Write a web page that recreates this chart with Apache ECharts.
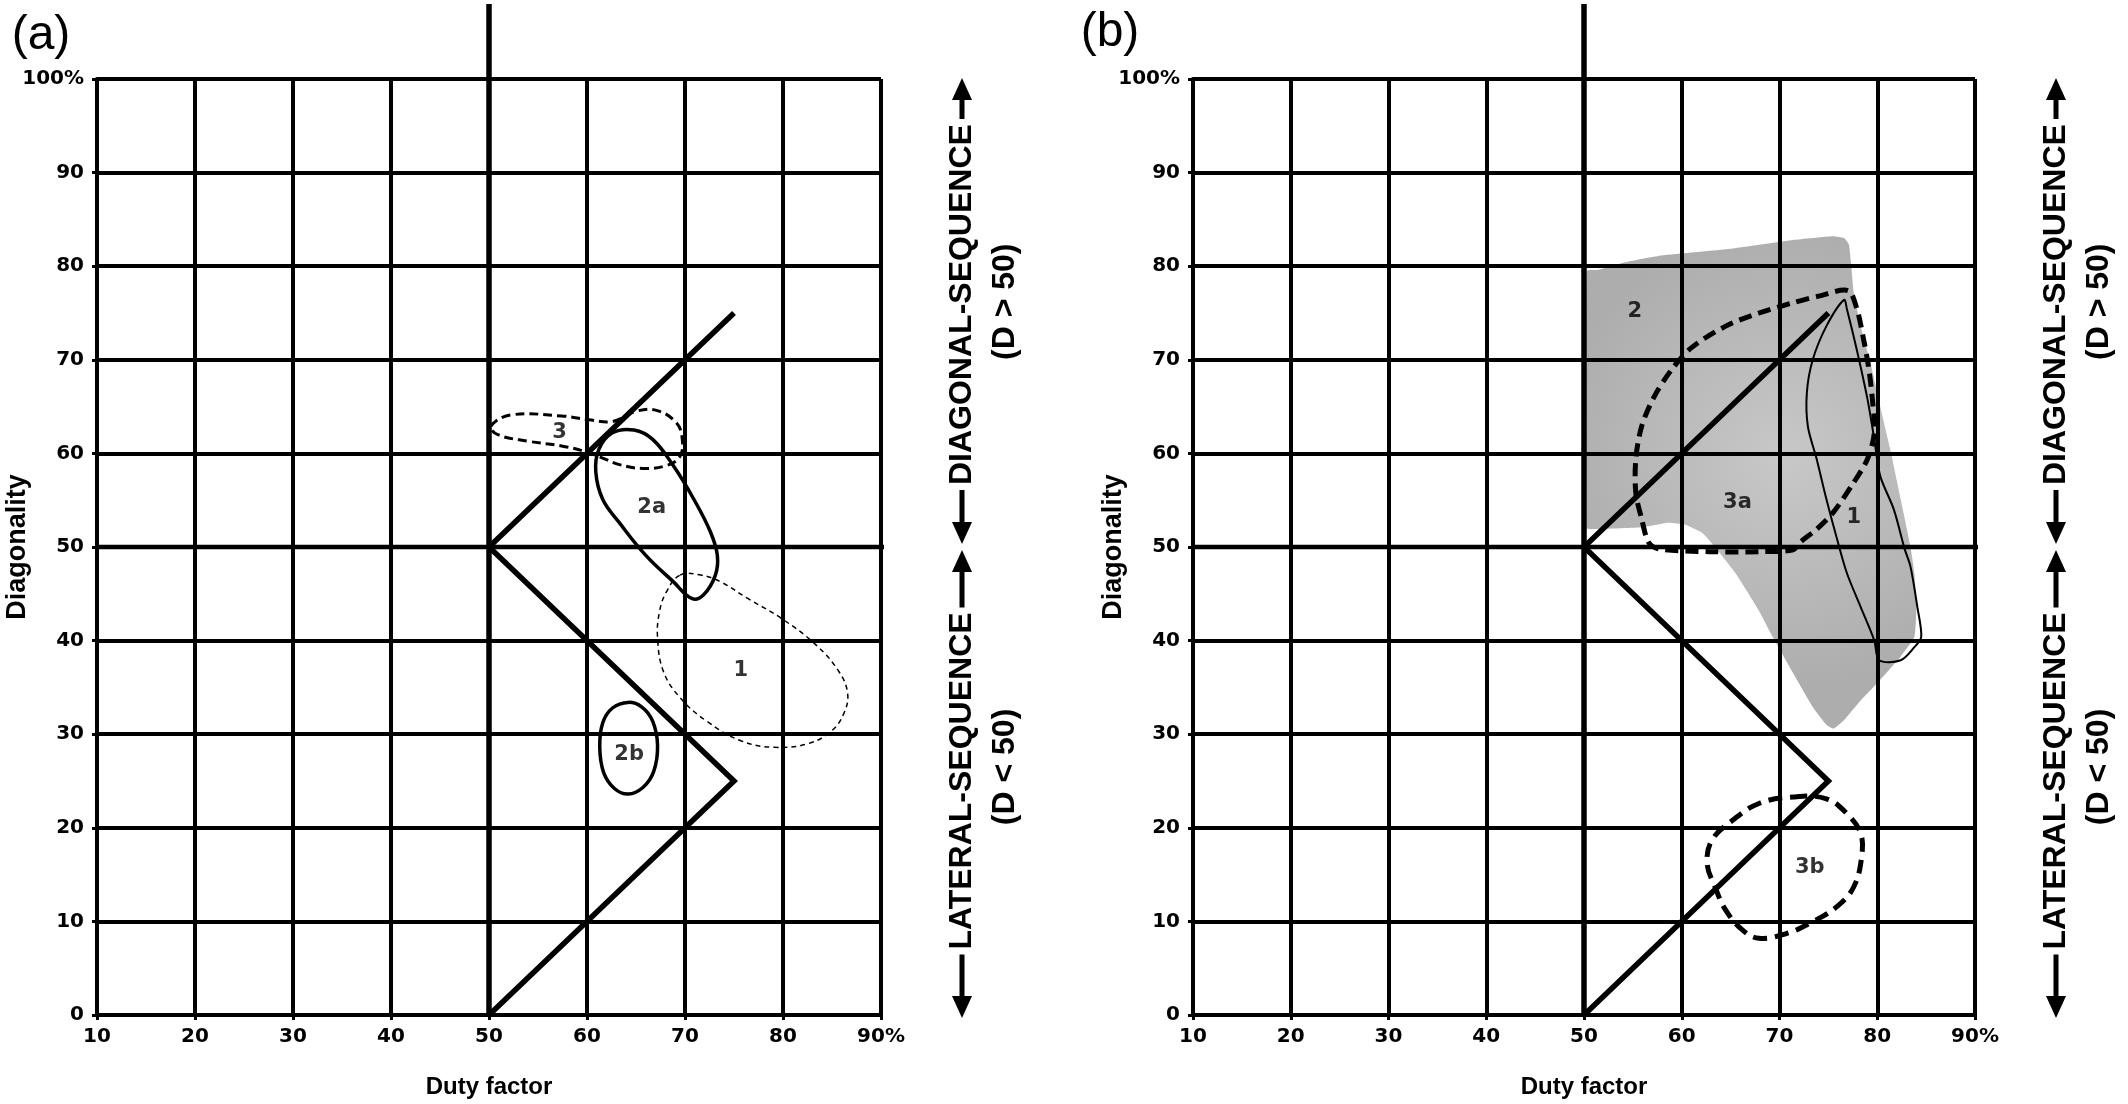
<!DOCTYPE html>
<html><head><meta charset="utf-8">
<script src="https://cdn.jsdelivr.net/npm/echarts@6/dist/echarts.min.js"></script>
<style>html,body{margin:0;padding:0;background:#fff}#c{width:2128px;height:1104px}</style>
</head><body><div id="c"></div>
<script>
// ---------- data ----------
const xTickLabels = ['10','20','30','40','50','60','70','80','90%'];
const yTickLabels = ['0','10','20','30','40','50','60','70','80','90','100%'];
const panelTitles = ['(a)','(b)'];
const xAxisName = 'Duty factor';
const yAxisName = 'Diagonality';
const diagText = 'DIAGONAL-SEQUENCE';
const diagSub = '(D > 50)';
const latText = 'LATERAL-SEQUENCE';
const latSub = '(D < 50)';

const zigzag = [[50,0],[75,25],[50,50],[75,75]];
const midVertical = [[50,0],[50,108]];
const midHorizontalA = [[10,50],[105.3,50]];
const midHorizontalB = [[10,50],[108,50]];

// panel (a)
const aRegion3 = [[50.2,62.9],[52.2,64.1],[57.4,64.0],[60.2,63.6],[62.6,63.4],[65.0,64.5],[67.1,64.6],[69.1,63.3],[69.7,61.7],[69.5,59.7],[68.1,58.7],[65.7,58.4],[63.3,58.8],[61.6,59.5],[59.8,60.2],[57.4,60.8],[54.0,61.3],[50.9,62.0]];
const aRegion2a = [[64.8,62.5],[62.6,62.2],[61.2,60.4],[60.9,58.0],[61.6,55.1],[63.3,52.6],[66.0,49.1],[68.8,46.3],[70.7,44.5],[71.9,44.9],[73.1,47.0],[73.3,49.1],[72.6,51.6],[70.9,55.1],[68.8,58.7],[66.7,61.5]];
const aRegion1 = [[69.5,47.0],[71.6,47.0],[73.6,46.3],[76.4,44.5],[79.8,42.4],[83.3,39.6],[85.7,36.7],[86.6,34.3],[86.2,32.2],[85.0,30.4],[82.6,29.0],[79.1,28.6],[75.7,29.3],[72.2,31.4],[69.5,33.9],[67.8,36.7],[67.2,40.3],[67.4,43.1],[68.1,45.2]];
const aRegion2b = [[64.2,33.4],[65.6,32.9],[66.7,31.4],[67.2,28.8],[66.8,26.0],[65.7,24.3],[64.2,23.6],[62.8,24.2],[61.7,25.9],[61.3,28.6],[61.6,31.2],[62.6,32.8]];
const aLabels = [['3',57.2,62.2],['2a',66.6,54.2],['1',75.7,36.8],['2b',64.3,27.8]];

// panel (b)
const bRegion2 = [[50.3,79.5],[51.4,79.6],[54.1,80.4],[57.6,81.1],[64.5,81.8],[71.4,82.8],[75.5,83.2],[76.6,83.0],[77.1,82.3],[77.3,80.5],[77.6,77.2],[78.3,73.6],[79.3,69.7],[80.3,65.0],[81.4,60.1],[82.4,55.1],[83.4,50.0],[83.8,47.2],[84.0,43.6],[83.8,40.4],[82.4,38.3],[80.3,35.8],[78.3,33.6],[76.6,31.5],[75.5,30.6],[74.8,31.0],[73.4,32.9],[71.4,36.5],[69.3,40.4],[67.9,43.2],[65.5,47.2],[63.4,50.0],[62.1,51.5],[60.3,52.4],[58.6,52.6],[55.9,52.1],[50.7,51.9],[50.3,52.0]];
const bRegion3a = [[77.0,77.4],[74.0,76.8],[71.4,76.1],[67.9,75.0],[64.5,73.6],[61.0,71.3],[59.0,69.0],[57.2,66.1],[55.9,62.9],[55.3,59.4],[55.3,55.8],[55.9,53.0],[56.6,50.5],[57.6,49.8],[62.8,49.5],[67.9,49.5],[71.4,49.7],[72.1,50.5],[73.8,51.9],[75.5,53.7],[77.6,56.9],[79.0,59.4],[79.7,62.2],[79.5,65.8],[79.1,69.3],[78.6,72.2],[77.9,75.5]];
const bRegion1 = [[76.6,76.4],[74.8,73.6],[73.4,70.0],[72.8,66.5],[72.9,62.9],[73.8,59.4],[74.8,55.1],[75.9,50.8],[76.9,47.2],[78.3,43.6],[79.7,40.0],[80.2,37.9],[82.4,37.9],[83.8,39.3],[84.5,40.4],[84.1,43.6],[83.4,47.9],[82.8,49.8],[81.7,54.0],[80.3,57.6],[79.7,61.5],[79.0,65.8],[77.9,71.1],[76.9,75.4]];
const bRegion3b = [[71.4,23.3],[74.8,23.1],[76.9,21.5],[78.3,19.4],[78.4,16.9],[77.6,13.7],[75.9,11.6],[73.1,9.8],[70.7,8.7],[67.9,8.2],[66.2,9.1],[64.5,11.2],[63.4,13.7],[62.6,16.2],[63.1,18.7],[65.2,20.8],[67.9,22.6]];
const bLabels = [['2',55.2,75.2],['3a',65.7,54.7],['1',77.6,53.1],['3b',73.1,15.8]];

// ---------- chart ----------
const FONT = '"Liberation Sans", Arial, sans-serif';
const WIDE = '"DejaVu Sans", "Liberation Sans", sans-serif';
const chart = echarts.init(document.getElementById('c'), null, {renderer:'canvas'});

const tickRich = {t:{fontSize:20, fontWeight:'bold', fontFamily:WIDE, color:'#000', lineHeight:22}};

function xAxisCfg(gi){
  return {gridIndex:gi, type:'value', min:10, max:90, interval:10,
    name:xAxisName, nameLocation:'middle', nameGap:60, nameMoveOverlap:false,
    nameTextStyle:{color:'#000', fontWeight:'bold', fontSize:24, fontFamily:FONT},
    axisLine:{show:true, onZero:false, lineStyle:{color:'#000', width:4}},
    axisTick:{show:true, length:5, lineStyle:{color:'#000', width:3}},
    axisLabel:{margin:11, color:'#000', fontWeight:'bold', fontSize:20, fontFamily:WIDE, rich:tickRich,
      formatter:v=>'{t|' + xTickLabels[Math.round((v-10)/10)] + '}'},
    splitLine:{show:true, lineStyle:{color:'#000', width:4}}};
}
function yAxisCfg(gi){
  return {gridIndex:gi, type:'value', min:0, max:100, interval:10,
    name:yAxisName, nameLocation:'middle', nameGap:66, nameRotate:90, nameMoveOverlap:false,
    nameTextStyle:{color:'#000', fontWeight:'bold', fontSize:27, fontFamily:FONT},
    axisLine:{show:true, onZero:false, lineStyle:{color:'#000', width:4}},
    axisTick:{show:true, length:5, lineStyle:{color:'#000', width:3}},
    axisLabel:{margin:13, color:'#000', fontWeight:'bold', fontSize:20, fontFamily:WIDE, rich:tickRich,
      formatter:v=>'{t|' + yTickLabels[Math.round(v/10)] + '}'},
    splitLine:{show:true, lineStyle:{color:'#000', width:4}}};
}
function region(points, gi, style, smooth, z){
  return {type:'custom', coordinateSystem:'cartesian2d', xAxisIndex:gi, yAxisIndex:gi,
    data:[[50,50]], z:(z===undefined?3:z), silent:true, clip:false,
    renderItem:(params, api)=>({type:'polygon',
      shape:{points:points.map(p=>api.coord(p)), smooth:smooth},
      style:Object.assign({fill:'none'}, style)})};
}
function line(data, gi, width, z){
  return {type:'line', xAxisIndex:gi, yAxisIndex:gi, data:data, symbol:'none', clip:false,
    silent:true, z:z||4, lineStyle:{color:'#000', width:width, cap:'butt', join:'miter'}};
}
function labels(list, gi){
  return {type:'scatter', xAxisIndex:gi, yAxisIndex:gi, symbolSize:1, z:6, silent:true,
    itemStyle:{color:'rgba(0,0,0,0)'},
    data:list.map(l=>({name:l[0], value:[l[1],l[2]]})),
    label:{show:true, position:'inside', formatter:p=>'{t|' + p.name + '}', color:'#000',
      fontWeight:'bold', fontSize:21, fontFamily:WIDE,
      rich:{t:{fontSize:21, fontWeight:'bold', fontFamily:WIDE, color:'#000'}}}};
}

const grayFill = {type:'radial', x:0.6, y:0.45, r:0.7,
  colorStops:[{offset:0, color:'#c8c8c8'},{offset:1, color:'#adadad'}]};

const option = {
  animation:false,
  backgroundColor:'#fff',
  grid:[{left:97, top:79, width:784, height:936, containLabel:false, outerBoundsMode:'none'},
        {left:1193, top:79, width:782, height:936, containLabel:false, outerBoundsMode:'none'}],
  xAxis:[xAxisCfg(0), xAxisCfg(1)],
  yAxis:[yAxisCfg(0), yAxisCfg(1)],
  series:[
    // panel a
    region(aRegion1, 0, {stroke:'#000', lineWidth:1.5, lineDash:[5,4]}, 0.4),
    region(aRegion3, 0, {stroke:'#000', lineWidth:3, lineDash:[9,5]}, 0.4),
    region(aRegion2a, 0, {stroke:'#000', lineWidth:3.5}, 0.4),
    region(aRegion2b, 0, {stroke:'#000', lineWidth:3.5}, 0.4),
    line(midVertical, 0, 5.5), line(midHorizontalA, 0, 4.5), line(zigzag, 0, 5.5),
    labels(aLabels, 0),
    // panel b
    region(bRegion2, 1, {fill:grayFill, stroke:null}, 0.15, -1),
    region(bRegion1, 1, {stroke:'#000', lineWidth:2}, 0.3),
    region(bRegion3a, 1, {stroke:'#000', lineWidth:5, lineDash:[13,7]}, 0.3),
    region(bRegion3b, 1, {stroke:'#000', lineWidth:5, lineDash:[14,8]}, 0.4),
    line(midVertical, 1, 5.5), line(midHorizontalB, 1, 4.5), line(zigzag, 1, 5.5),
    labels(bLabels, 1)
  ]
};
chart.setOption(option);

// ---------- side annotations & panel titles ----------
const graphics = [];
[0,1].forEach(gi=>{
  const conv = v => chart.convertToPixel({xAxisIndex:gi, yAxisIndex:gi}, v);
  const xr = conv([90,0])[0];
  const y100 = conv([90,100])[1], y50 = conv([90,50])[1], y0 = conv([90,0])[1];
  const yDiag = conv([90,75.9])[1], yLat = conv([90,25])[1];
  const yDiagSub = conv([90,76.2])[1], yLatSub = conv([90,26.5])[1];
  const xc = xr + 81, xp = xr + 124;
  const shaft = {stroke:'#000', lineWidth:5};
  graphics.push({type:'line', shape:{x1:xc, y1:y100+14, x2:xc, y2:y50-16}, style:shaft, z:1});
  graphics.push({type:'line', shape:{x1:xc, y1:y50+16, x2:xc, y2:y0-14}, style:shaft, z:1});
  const head = (tipY, dir) => ({type:'polygon', z:2,
    shape:{points:[[xc, tipY],[xc-10, tipY+dir*22],[xc+10, tipY+dir*22]]}, style:{fill:'#000'}});
  graphics.push(head(y100-1, 1), head(y50-3, -1), head(y50+3, 1), head(y0+3, -1));
  const txt = (t, x, y) => ({type:'text', x:x, y:y, rotation:Math.PI/2, z:3,
    style:{text:t, fill:'#000', font:'bold 32px ' + FONT, align:'center', verticalAlign:'middle',
      backgroundColor:'#fff', padding:[0,5]}});
  graphics.push(txt(diagText, xc, yDiag), txt(latText, xc, yLat));
  graphics.push(txt(diagSub, xp, yDiagSub), txt(latSub, xp, yLatSub));
});
graphics.push({type:'text', x:41, y:36, z:3, style:{text:panelTitles[0], fill:'#000', font:'48px ' + FONT, align:'center', verticalAlign:'middle'}});
graphics.push({type:'text', x:1110, y:33, z:3, style:{text:panelTitles[1], fill:'#000', font:'48px ' + FONT, align:'center', verticalAlign:'middle'}});
chart.setOption({graphic:{elements:graphics}});
</script>
</body></html>
